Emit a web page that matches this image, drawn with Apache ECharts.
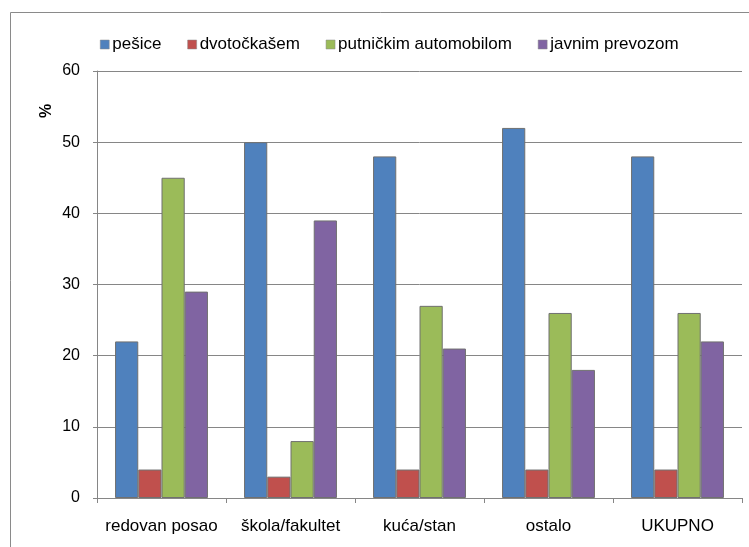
<!DOCTYPE html>
<html>
<head>
<meta charset="utf-8">
<script src="https://cdn.jsdelivr.net/npm/echarts@6/dist/echarts.min.js"></script>
<style>
  html, body { margin: 0; padding: 0; background: #fff; }
  #chart { width: 749px; height: 547px; }
</style>
</head>
<body>
<div id="chart"></div>
<script>
// Trip purposes and the share (%) of each transport mode
const categories = ['redovan posao', 'škola/fakultet', 'kuća/stan', 'ostalo', 'UKUPNO'];
const seriesNames = ['pešice', 'dvotočkašem', 'putničkim automobilom', 'javnim prevozom'];
const pesice = [22, 50, 48, 52, 48];
const dvotockasem = [4, 3, 4, 4, 4];
const automobilom = [45, 8, 27, 26, 26];
const prevozom = [29, 39, 21, 18, 22];
const colors = ['#4F81BD', '#C0504D', '#9BBB59', '#8064A2'];

const values = [pesice, dvotockasem, automobilom, prevozom];
const font = 'Liberation Sans, Arial, sans-serif';

const chart = echarts.init(document.getElementById('chart'), null, { renderer: 'canvas' });
chart.setOption({
  animation: false,
  backgroundColor: '#ffffff',
  color: colors,
  graphic: [
    {
      type: 'rect',
      shape: { x: 10.5, y: 12.5, width: 800, height: 600 },
      style: { fill: 'none', stroke: '#8a8a8a', lineWidth: 1 },
      z: -1
    },
    {
      type: 'text',
      x: 47, y: 111,
      rotation: Math.PI / 2,
      style: {
        text: '%', fill: '#000', font: 'bold 16px ' + font,
        align: 'center', verticalAlign: 'middle'
      }
    }
  ],
  legend: {
    top: 31,
    left: 95,
    itemWidth: 9,
    itemHeight: 9,
    itemGap: 26,
    icon: 'rect',
    textStyle: { fontFamily: font, fontSize: 17, color: '#000', padding: [0, 0, 0, -2] },
    data: seriesNames.map(n => ({ name: n, itemStyle: { borderWidth: 0.5, borderColor: '#888' } }))
  },
  grid: { left: 97, right: 7, top: 71, bottom: 49, containLabel: false },
  xAxis: {
    type: 'category',
    data: categories,
    axisLine: { lineStyle: { color: '#868686', width: 1 } },
    axisTick: { show: true, interval: 0, length: 5, lineStyle: { color: '#868686' } },
    axisLabel: { interval: 0, hideOverlap: false, fontFamily: font, fontSize: 17, color: '#000', margin: 20 }
  },
  yAxis: {
    type: 'value',
    min: 0, max: 60, interval: 10,
    axisLine: { show: true, lineStyle: { color: '#868686', width: 1 } },
    axisTick: { show: true, length: 4, lineStyle: { color: '#868686' } },
    axisLabel: { fontFamily: font, fontSize: 16, color: '#000', margin: 17 },
    splitLine: { lineStyle: { color: '#868686', width: 1 } }
  },
  series: seriesNames.map((name, i) => ({
    name: name,
    type: 'bar',
    data: values[i],
    barGap: '0%',
    barCategoryGap: '28%',
    itemStyle: { color: colors[i], borderColor: '#707070', borderWidth: 1 }
  }))
});
</script>
</body>
</html>
